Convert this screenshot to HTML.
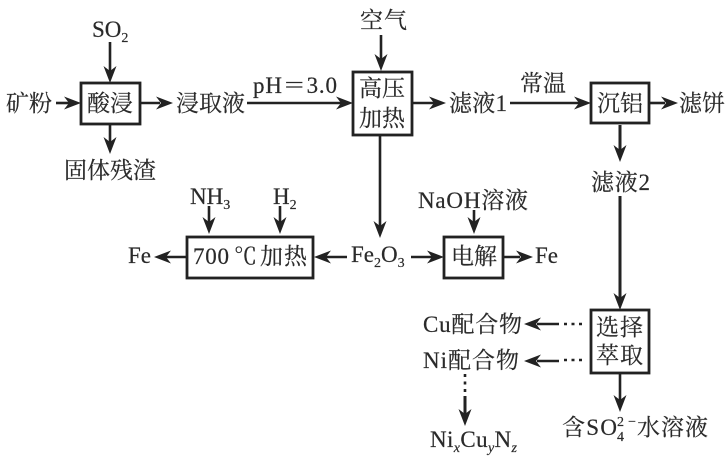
<!DOCTYPE html>
<html><head><meta charset="utf-8">
<style>
html,body{margin:0;padding:0;background:#fff}
svg{display:block}
text{font-family:"Liberation Serif","Noto Serif CJK SC",serif;font-size:23px;fill:#2a2a2a;stroke:#2a2a2a;stroke-width:.2}
.s{font-size:14px}
.i{font-style:italic}
rect{fill:#fff;stroke:#222;stroke-width:2.8}
line{stroke:#222;stroke-width:2.6}
</style></head>
<body>
<svg width="726" height="459" viewBox="0 0 726 459" xmlns="http://www.w3.org/2000/svg">
<defs>
<path id="a" d="M0 0 L-17 -6.5 L-12 0 L-17 6.5 Z" fill="#222"/>
</defs>
<!-- boxes -->
<rect x="81" y="83" width="59" height="41"/>
<rect x="353" y="72" width="59" height="63"/>
<rect x="591" y="83" width="58" height="40"/>
<rect x="187" y="237" width="126" height="41"/>
<rect x="444" y="237" width="59" height="41"/>
<rect x="591" y="310" width="58" height="63"/>
<!-- lines -->
<line x1="110" y1="42" x2="110" y2="72"/><use href="#a" transform="translate(110,83) rotate(90)"/>
<line x1="56" y1="103" x2="70" y2="103"/><use href="#a" transform="translate(81,103)"/>
<line x1="140" y1="103" x2="160" y2="103"/><use href="#a" transform="translate(173,103)"/>
<line x1="110" y1="124" x2="110" y2="142"/><use href="#a" transform="translate(110,154) rotate(90)"/>
<line x1="247" y1="103" x2="342" y2="103"/><use href="#a" transform="translate(353,103)"/>
<line x1="381" y1="35" x2="381" y2="60"/><use href="#a" transform="translate(381,71) rotate(90)"/>
<line x1="412" y1="103" x2="434" y2="103"/><use href="#a" transform="translate(446,103)"/>
<line x1="510" y1="103" x2="580" y2="103"/><use href="#a" transform="translate(591,103)"/>
<line x1="649" y1="103" x2="665" y2="103"/><use href="#a" transform="translate(678,103)"/>
<line x1="620" y1="125" x2="620" y2="150" style="stroke-width:3"/><use href="#a" transform="translate(620,162) rotate(90)"/>
<line x1="380" y1="135" x2="380" y2="226"/><use href="#a" transform="translate(380,238) rotate(90)"/>
<line x1="209" y1="206" x2="209" y2="222"/><use href="#a" transform="translate(209,234) rotate(90)"/>
<line x1="280" y1="206" x2="280" y2="222"/><use href="#a" transform="translate(280,234) rotate(90)"/>
<line x1="474" y1="210" x2="474" y2="222"/><use href="#a" transform="translate(474,234) rotate(90)"/>
<line x1="187" y1="257" x2="165" y2="257"/><use href="#a" transform="translate(154,257) rotate(180)"/>
<line x1="347" y1="257" x2="325" y2="257"/><use href="#a" transform="translate(314,257) rotate(180)"/>
<line x1="411" y1="257" x2="433" y2="257"/><use href="#a" transform="translate(444,257)"/>
<line x1="503" y1="257" x2="520" y2="257"/><use href="#a" transform="translate(533,257)"/>
<line x1="620" y1="196" x2="620" y2="299" style="stroke-width:3"/><use href="#a" transform="translate(620,310) rotate(90)"/>
<line x1="620" y1="373" x2="620" y2="400"/><use href="#a" transform="translate(620,412) rotate(90)"/>
<line x1="559" y1="324" x2="537" y2="324"/><use href="#a" transform="translate(524,324) rotate(180)"/>
<line x1="559" y1="361" x2="537" y2="361"/><use href="#a" transform="translate(524,361) rotate(180)"/>
<line x1="564" y1="324" x2="583" y2="324" style="stroke-dasharray:3 4.5"/>
<line x1="564" y1="360" x2="583" y2="360" style="stroke-dasharray:3 4.5"/>
<line x1="465" y1="374" x2="465" y2="394" style="stroke-dasharray:3 4.5"/>
<line x1="465" y1="396" x2="465" y2="414" style="stroke-width:3"/><use href="#a" transform="translate(465,426) rotate(90)"/>
<!-- labels -->
<text x="92" y="37">SO<tspan class="s" dy="5">2</tspan></text>
<text x="6" y="111" textLength="46">矿粉</text>
<text x="87" y="111" textLength="46">酸浸</text>
<text x="176" y="111" textLength="69">浸取液</text>
<text x="64" y="178" textLength="92">固体残渣</text>
<text x="253" y="93" textLength="84">pH＝3.0</text>
<text x="360" y="28" textLength="47">空气</text>
<text x="359" y="96" textLength="46">高压</text>
<text x="359" y="126" textLength="46">加热</text>
<text x="449" y="111" textLength="58">滤液1</text>
<text x="520" y="91" textLength="46">常温</text>
<text x="597" y="111" textLength="46">沉铝</text>
<text x="679" y="111" textLength="46">滤饼</text>
<text x="591" y="190" textLength="59">滤液2</text>
<text x="190" y="204">NH<tspan class="s" dy="5">3</tspan></text>
<text x="273" y="204">H<tspan class="s" dy="5">2</tspan></text>
<text x="418" y="208" textLength="110">NaOH溶液</text>
<text x="128" y="263">Fe</text>
<text x="193" y="264" textLength="36">700</text>
<text x="234" y="264">℃</text>
<text x="260" y="264" textLength="47">加热</text>
<text x="351" y="262">Fe<tspan class="s" dy="5">2</tspan><tspan dy="-5">O</tspan><tspan class="s" dy="5">3</tspan></text>
<text x="451" y="264" textLength="46">电解</text>
<text x="535" y="263">Fe</text>
<text x="423" y="332" textLength="99">Cu配合物</text>
<text x="423" y="368" textLength="96">Ni配合物</text>
<text x="596" y="335" textLength="47">选择</text>
<text x="596" y="363" textLength="47">萃取</text>
<text x="430" y="447" textLength="87">Ni<tspan class="s i" dy="5">x</tspan><tspan dy="-5">Cu</tspan><tspan class="s i" dy="5">y</tspan><tspan dy="-5">N</tspan><tspan class="s i" dy="5">z</tspan></text>
<text x="562" y="435" textLength="55">含SO</text>
<text class="s" x="617" y="426" textLength="19">2−</text>
<text class="s" x="617" y="441">4</text>
<text x="637" y="435" textLength="71">水溶液</text>
</svg>
</body></html>
